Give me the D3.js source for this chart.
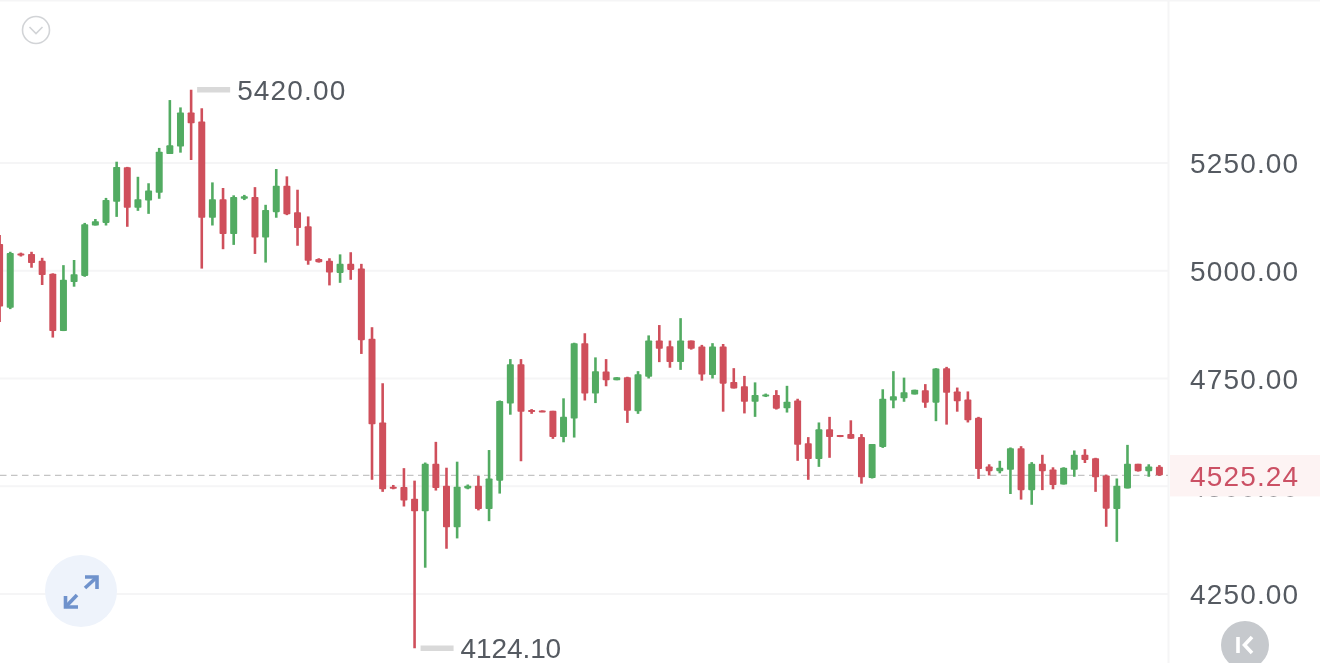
<!DOCTYPE html>
<html>
<head>
<meta charset="utf-8">
<script src="https://cdn.jsdelivr.net/npm/d3@7/dist/d3.min.js"></script>
<style>
html,body{margin:0;padding:0;background:#fff;overflow:hidden}
svg{display:block;filter:blur(0.45px)}
text{font-family:"Liberation Sans",Arial,sans-serif}
</style>
</head>
<body>
<svg id="c" width="1320" height="663"></svg>
<script>
const opens=[5062,4914,5040,5039,5023,4993,4860,4974,4988,5105,5111,5160,5240,5146,5163,5181,5271,5288,5367,5346,5123,5166,5085,5167,5171,5077,5136,5197,5136,5103,5027,5023,4995,5016,5005,4842,4648,4499,4498,4471,4442,4552,4501,4405,4495,4501,4447,4513,4692,4783,4677,4676,4675,4614,4657,4832,4715,4766,4746,4753,4674,4754,4838,4825,4788,4838,4824,4758,4824,4742,4732,4696,4708,4712,4681,4699,4600,4563,4632,4619,4621,4614,4519,4591,4699,4704,4713,4723,4694,4774,4720,4701,4659,4546,4535,4538,4588,4491,4552,4539,4504,4538,4573,4565,4525,4447,4495,4552,4535,4545];
const highs=[5083,5044,5042,5044,5030,4994,5013,5025,5111,5120,5169,5253,5241,5218,5203,5285,5396,5379,5420,5377,5205,5192,5175,5176,5194,5153,5236,5219,5188,5126,5029,5029,5038,5043,5016,4869,4739,4503,4542,4513,4555,4603,4543,4557,4504,4524,4584,4699,4795,4795,4679,4676,4675,4704,4833,4855,4799,4795,4753,4754,4767,4850,4874,4838,4890,4838,4828,4832,4830,4774,4756,4741,4715,4723,4733,4703,4614,4648,4661,4619,4653,4621,4598,4725,4767,4752,4724,4737,4774,4777,4729,4720,4661,4551,4559,4590,4593,4556,4573,4544,4544,4583,4586,4566,4527,4518,4596,4552,4551,4549];
const lows=[4881,4911,5033,5007,4967,4845,4860,4963,4986,5105,5105,5125,5102,5139,5132,5167,5271,5274,5257,5005,5105,5050,5060,5164,5039,5019,5123,5129,5058,5014,5019,4966,4972,4979,4807,4515,4487,4493,4453,4124.1,4311,4490,4355,4379,4493,4444,4419,4483,4666,4558,4668,4672,4610,4602,4613,4699,4693,4732,4746,4647,4668,4750,4788,4775,4770,4817,4745,4750,4673,4727,4669,4661,4707,4678,4671,4559,4515,4545,4566,4614,4610,4506,4518,4589,4681,4696,4713,4682,4651,4643,4673,4648,4517,4525,4530,4482,4469,4457,4491,4493,4504,4522,4554,4487,4406,4371,4495,4534,4522,4524];
const closes=[4917,5041,5036,5018,4990,4860,4979,4992,5108,5115,5164,5241,5146,5166,5186,5276,5291,5367,5342,5123,5166,5085,5171,5173,5077,5141,5197,5131,5099,5023,5020,4996,5016,5002,4839,4644,4493,4494,4467,4442,4552,4496,4405,4499,4501,4447,4518,4698,4783,4673,4672,4672,4614,4661,4832,4715,4767,4746,4753,4675,4760,4838,4819,4788,4838,4819,4759,4824,4738,4727,4696,4712,4713,4680,4696,4596,4563,4632,4614,4614,4610,4521,4598,4703,4709,4718,4724,4694,4773,4717,4697,4653,4540,4535,4543,4588,4491,4552,4535,4503,4543,4573,4561,4521,4448,4501,4552,4535,4546,4525.24];
const axisTicks=[5250,5000,4750,4500,4250];
const maxLabel="5420.00", minLabel="4124.10", lastPrice=4525.24;
const upColor="#52ab62", downColor="#cf4f5b", gridColor="#f5f5f6", labelColor="#555a61", lastColor="#cb5064";

const svg=d3.select("#c");
const x=d3.scaleLinear().domain([0,opens.length-1]).range([-0.4,1159.4]);
const y=d3.scaleLinear().domain([5250,4250]).range([163,594]);
const rightEdge=1168;

svg.append("rect").attr("x",0).attr("y",0).attr("width",1320).attr("height",1.5).attr("fill",gridColor);
svg.append("line").attr("x1",rightEdge+.5).attr("x2",rightEdge+.5).attr("y1",0).attr("y2",663).attr("stroke",gridColor).attr("stroke-width",2);

svg.append("g").selectAll("line").data(axisTicks).join("line")
  .attr("x1",0).attr("x2",rightEdge).attr("y1",d=>y(d)).attr("y2",d=>y(d))
  .attr("stroke",gridColor).attr("stroke-width",2);

const axis=d3.axisRight(y).tickValues(axisTicks).tickSize(0).tickPadding(0).tickFormat(d3.format(".2f"));
const ag=svg.append("g").attr("transform","translate(1190,0)").call(axis);
ag.select(".domain").remove();
ag.selectAll("text").attr("font-size",28).attr("letter-spacing",1.15).attr("fill",labelColor).attr("dy","0.35em");

svg.append("line").attr("x1",0).attr("x2",rightEdge).attr("y1",y(lastPrice)).attr("y2",y(lastPrice))
  .attr("stroke","#c4c4c4").attr("stroke-width",1.3).attr("stroke-dasharray","6.5,4.5");

const idx=d3.range(opens.length);
const col=i=>closes[i]>opens[i]?upColor:downColor;
const g=svg.append("g");
g.selectAll("line.w").data(idx).join("line").attr("class","w")
  .attr("x1",i=>x(i)).attr("x2",i=>x(i)).attr("y1",i=>y(highs[i])).attr("y2",i=>y(lows[i]))
  .attr("stroke",col).attr("stroke-width",2.6);
g.selectAll("rect.b").data(idx).join("rect").attr("class","b")
  .attr("x",i=>x(i)-3.5).attr("width",7)
  .attr("y",i=>y(Math.max(opens[i],closes[i])))
  .attr("height",i=>Math.max(2,Math.abs(y(opens[i])-y(closes[i]))))
  .attr("rx",.8).attr("fill",col);

// max / min markers
const hiI=highs.indexOf(d3.max(highs)), loI=lows.indexOf(d3.min(lows));
function marker(i,val,label,spacing){
  const x0=x(i)+6;
  svg.append("line").attr("x1",x0).attr("x2",x0+33).attr("y1",y(val)).attr("y2",y(val)).attr("stroke","#d9d9d9").attr("stroke-width",5.5);
  svg.append("text").attr("x",x0+40).attr("y",y(val)).attr("dy","0.35em").attr("font-size",28).attr("letter-spacing",spacing).attr("fill",labelColor).text(label);
}
marker(hiI,+maxLabel,maxLabel,1.15);
marker(loI,+minLabel,minLabel,-0.1);

// last price tag
svg.append("rect").attr("x",1170).attr("y",455).attr("width",150).attr("height",41.4).attr("fill","#fdf3f3");
svg.append("text").attr("x",1190).attr("y",y(lastPrice)+1).attr("dy","0.35em").attr("font-size",28).attr("letter-spacing",1.15).attr("fill",lastColor).text(d3.format(".2f")(lastPrice));

// icons
svg.append("circle").attr("cx",36).attr("cy",30).attr("r",13.5).attr("fill","#fff").attr("stroke","#d2d4d7").attr("stroke-width",1.6);
svg.append("path").attr("d","M29.5 27 L36 33.5 L42.5 27").attr("fill","none").attr("stroke","#d2d4d7").attr("stroke-width",1.6);

svg.append("circle").attr("cx",81).attr("cy",591).attr("r",36).attr("fill","#eef3fb");
svg.append("g").attr("fill","none").attr("stroke","#6f92cc").attr("stroke-width",3.6)
  .selectAll("path").data(["M85 577 H97 V589","M97 577 L85 588","M65.5 596 V607 H78","M65.5 607 L77 595"]).join("path").attr("d",d=>d);

svg.append("circle").attr("cx",1245).attr("cy",645).attr("r",24).attr("fill","#c6c9cd");
svg.append("g").attr("fill","none").attr("stroke","#fff").attr("stroke-width",3.6)
  .selectAll("path").data(["M1238 637 V653","M1252 637 L1244.5 645 L1252 653"]).join("path").attr("d",d=>d);
</script>
</body>
</html>
